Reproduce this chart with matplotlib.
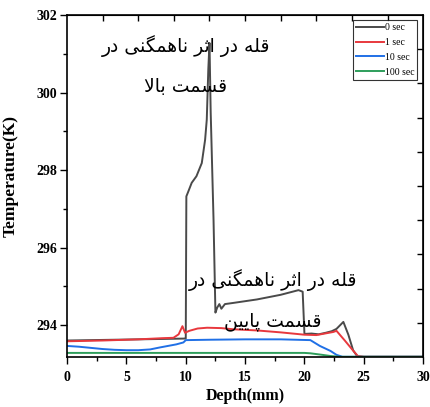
#!/usr/bin/env python3
"""Temperature vs depth profiles at several times, with Persian notes on the peaks."""

import matplotlib
matplotlib.use("Agg")
import matplotlib.pyplot as plt
import numpy as np

# 0 sec
depth_0 = [0, 2, 4, 6, 8, 9.9, 10.0, 10.05, 10.22, 10.5, 10.9, 11.35, 11.63, 11.77, 11.9,
           12.0, 12.1, 12.34, 12.5, 12.65, 12.83, 13.0, 13.3, 14, 16, 18, 19.5, 19.85,
           20.0, 20.6, 21.2, 21.8, 22.3, 22.7, 23.28, 23.7, 24.1, 24.45, 25, 30]
temp_0 = [293.60, 293.61, 293.62, 293.63, 293.64, 293.65, 293.65, 297.32, 297.45, 297.67,
          297.84, 298.18, 298.78, 299.30, 300.60, 301.28, 299.5, 296.72, 294.32, 294.45,
          294.54, 294.42, 294.54, 294.57, 294.66, 294.78, 294.90, 294.86, 293.77, 293.78,
          293.76, 293.80, 293.84, 293.90, 294.08, 293.75, 293.35, 293.19, 293.18, 293.18]

# 1 sec
depth_1 = [0, 3, 6, 8, 8.96, 9.4, 9.72, 9.94, 10.3, 11, 11.8, 13, 14, 16, 18, 20, 21,
           22.43, 22.7, 23.4, 24.1, 24.5, 25, 30]
temp_1 = [293.58, 293.60, 293.63, 293.66, 293.67, 293.76, 293.97, 293.80, 293.85, 293.91,
          293.93, 293.92, 293.89, 293.86, 293.81, 293.75, 293.74, 293.82, 293.85, 293.60,
          293.34, 293.20, 293.18, 293.18]

# 10 sec
depth_10 = [0, 1, 2, 3, 4, 5, 6, 7, 7.8, 9.2, 9.8, 10.0, 12, 15, 18, 20.5, 21.3, 22.2,
            22.7, 23.2, 30]
temp_10 = [293.46, 293.44, 293.41, 293.38, 293.36, 293.35, 293.35, 293.37, 293.42, 293.50,
           293.55, 293.61, 293.62, 293.63, 293.63, 293.61, 293.46, 293.33, 293.23, 293.18,
           293.18]

# 100 sec
depth_100 = [0, 10, 20, 20.5, 21.5, 22.2, 23.0, 30]
temp_100 = [293.28, 293.28, 293.28, 293.27, 293.23, 293.20, 293.18, 293.18]

series_labels = ["0 sec", "1 sec", "10 sec", "100 sec"]
series_colors = ["#4a4a4a", "#e8383d", "#2070e6", "#2e9e5b"]

note_top = ["قله در اثر ناهمگنی در", "قسمت بالا"]
note_bottom = ["قله در اثر ناهمگنی در", "قسمت پایین"]

# presentation forms: isolated, final, initial, medial
FORMS = {
    "ق": ("\uFED5", "\uFED6", "\uFED7", "\uFED8"),
    "ل": ("\uFEDD", "\uFEDE", "\uFEDF", "\uFEE0"),
    "ه": ("\uFEE9", "\uFEEA", "\uFEEB", "\uFEEC"),
    "ث": ("\uFE99", "\uFE9A", "\uFE9B", "\uFE9C"),
    "ن": ("\uFEE5", "\uFEE6", "\uFEE7", "\uFEE8"),
    "م": ("\uFEE1", "\uFEE2", "\uFEE3", "\uFEE4"),
    "گ": ("\uFB92", "\uFB93", "\uFB94", "\uFB95"),
    "ی": ("\uFBFC", "\uFBFD", "\uFBFE", "\uFBFF"),
    "س": ("\uFEB1", "\uFEB2", "\uFEB3", "\uFEB4"),
    "ت": ("\uFE95", "\uFE96", "\uFE97", "\uFE98"),
    "ب": ("\uFE8F", "\uFE90", "\uFE91", "\uFE92"),
    "پ": ("\uFB56", "\uFB57", "\uFB58", "\uFB59"),
    "د": ("\uFEA9", "\uFEAA", None, None),
    "ر": ("\uFEAD", "\uFEAE", None, None),
    "ا": ("\uFE8D", "\uFE8E", None, None),
}


def joins_next(ch):
    return ch in FORMS and FORMS[ch][2] is not None


def shape_persian(text):
    """Pick contextual glyph forms and reverse for left-to-right drawing."""
    out = []
    i = 0
    while i < len(text):
        ch = text[i]
        if ch not in FORMS:
            out.append(ch)
            i += 1
            continue
        prev_join = i > 0 and joins_next(text[i - 1])
        if ch == "ل" and i + 1 < len(text) and text[i + 1] == "ا":
            out.append("\uFEFC" if prev_join else "\uFEFB")
            i += 2
            continue
        next_join = joins_next(ch) and i + 1 < len(text) and text[i + 1] in FORMS
        if prev_join and next_join:
            out.append(FORMS[ch][3])
        elif prev_join:
            out.append(FORMS[ch][1])
        elif next_join:
            out.append(FORMS[ch][2])
        else:
            out.append(FORMS[ch][0])
        i += 1
    return "".join(reversed(out))


plt.rcParams["font.family"] = ["Liberation Serif", "DejaVu Sans"]

fig = plt.figure(figsize=(4.30, 4.07), dpi=100)
ax = fig.add_axes([0.156, 0.123, 0.828, 0.840])

for d, t, lab, col in zip([depth_0, depth_1, depth_10, depth_100],
                          [temp_0, temp_1, temp_10, temp_100],
                          series_labels, series_colors):
    ax.plot(d, t, color=col, lw=1.4, label=lab)

y_lo, y_hi = 293.176, 302
ax.set_xlim(0, 30)
ax.set_ylim(y_lo, y_hi)
ax.set_xticks(np.arange(0, 31, 5))
ax.set_xticks(np.arange(0, 30, 2.5), minor=True)
ax.set_yticks([294, 296, 298, 300, 302])
ax.set_yticks([295, 297, 299, 301], minor=True)
ax.tick_params(which="major", direction="out", length=5, width=1, labelsize=10, pad=2)
ax.tick_params(axis="x", which="major", pad=5)
ax.tick_params(which="minor", direction="out", length=3, width=1)
for lbl in ax.get_xticklabels() + ax.get_yticklabels():
    lbl.set_fontweight("bold")
for sp in ax.spines.values():
    sp.set_linewidth(1.2)

top = ax.secondary_xaxis("top")
top.set_xticks(np.arange(3, 30, 3))
top.tick_params(direction="in", length=4, width=1, labeltop=False)
right = ax.secondary_yaxis("right")
right.set_yticks(np.linspace(y_lo, y_hi, 11)[1:-1])
right.tick_params(direction="in", length=4, width=1, labelright=False)

ax.set_xlabel("Depth(mm)", fontsize=11.5, fontweight="bold", labelpad=3)
ax.set_ylabel("Temperature(K)", fontsize=12.5, fontweight="bold")
ax.yaxis.set_label_coords(-0.135, 0.53)

leg = ax.legend(loc="upper right", bbox_to_anchor=(0.983, 0.985), fontsize=7,
                frameon=True, fancybox=False, edgecolor="black", borderpad=0.3,
                labelspacing=0.6, handlelength=2.8, handletextpad=0.1, borderaxespad=0)
leg.get_frame().set_linewidth(0.8)

note_kw = dict(family="DejaVu Sans", fontsize=13.5, ha="center", va="center")
ax.text(10.0, 301.2, shape_persian(note_top[0]), **note_kw)
ax.text(10.0, 300.15, shape_persian(note_top[1]), **note_kw)
ax.text(17.35, 295.15, shape_persian(note_bottom[0]), **note_kw)
ax.text(17.35, 294.1, shape_persian(note_bottom[1]), **note_kw)

fig.savefig("out.png", dpi=100)
